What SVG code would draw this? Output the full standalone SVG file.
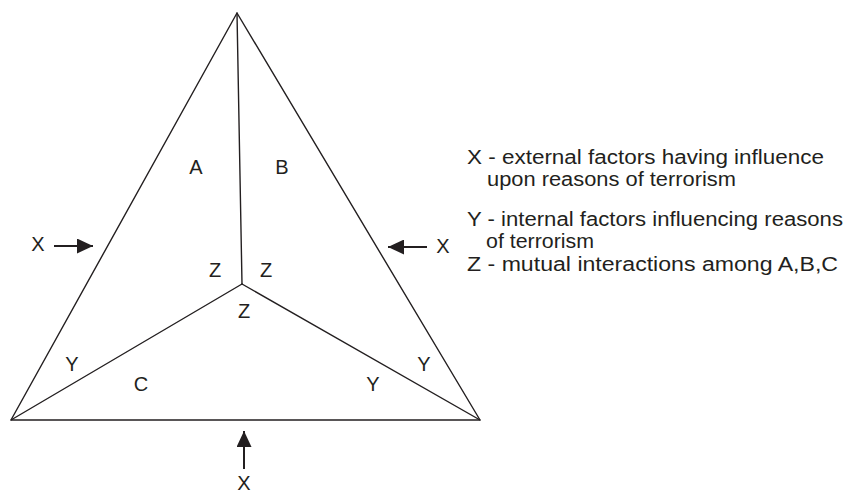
<svg xmlns="http://www.w3.org/2000/svg" width="857" height="493" viewBox="0 0 857 493">
<defs>
<style>
.t{font-family:"Liberation Sans",Arial,sans-serif;font-size:20px;fill:#231f20}
.l{fill:none;stroke:#231f20;stroke-width:1.4;stroke-linecap:round;stroke-linejoin:round}
.a{fill:none;stroke:#231f20;stroke-width:2}
</style>
<marker id="ah" markerWidth="16" markerHeight="15" refX="16" refY="7.5" orient="auto" markerUnits="userSpaceOnUse">
<path d="M0,0 L16,7.5 L0,15 Z" fill="#231f20"/>
</marker>
</defs>
<rect width="857" height="493" fill="#fff"/>
<g id="triangle">
<polygon class="l" points="237,13 11,420 480,420"/>
<line class="l" x1="237" y1="13" x2="242" y2="284"/>
<line class="l" x1="242" y1="284" x2="11" y2="420"/>
<line class="l" x1="242" y1="284" x2="480" y2="420"/>
</g>
<g id="connectors">
<line class="a" x1="54" y1="246" x2="93" y2="246" marker-end="url(#ah)"/>
<line class="a" x1="427" y1="247" x2="388" y2="247" marker-end="url(#ah)"/>
<line class="a" x1="244" y1="469" x2="244" y2="431" marker-end="url(#ah)"/>
</g>
<g id="labels">
<text class="t" x="38" y="251" text-anchor="middle">X</text>
<text class="t" x="443" y="253" text-anchor="middle">X</text>
<text class="t" x="244" y="490" text-anchor="middle">X</text>
<text class="t" x="196" y="174" text-anchor="middle">A</text>
<text class="t" x="282" y="174" text-anchor="middle">B</text>
<text class="t" x="215" y="277" text-anchor="middle">Z</text>
<text class="t" x="266" y="277" text-anchor="middle">Z</text>
<text class="t" x="244" y="318" text-anchor="middle">Z</text>
<text class="t" x="72" y="371" text-anchor="middle">Y</text>
<text class="t" x="141" y="391" text-anchor="middle">C</text>
<text class="t" x="373" y="391" text-anchor="middle">Y</text>
<text class="t" x="424" y="371" text-anchor="middle">Y</text>
</g>
<g id="legend">
<text class="t" x="467" y="164" textLength="357" lengthAdjust="spacingAndGlyphs">X - external factors having influence</text>
<text class="t" x="487" y="186" textLength="249" lengthAdjust="spacingAndGlyphs">upon reasons of terrorism</text>
<text class="t" x="467" y="226" textLength="376" lengthAdjust="spacingAndGlyphs">Y - internal factors influencing reasons</text>
<text class="t" x="486" y="248" textLength="108" lengthAdjust="spacingAndGlyphs">of terrorism</text>
<text class="t" x="467" y="271" textLength="371" lengthAdjust="spacingAndGlyphs">Z - mutual interactions among A,B,C</text>
</g>
</svg>
